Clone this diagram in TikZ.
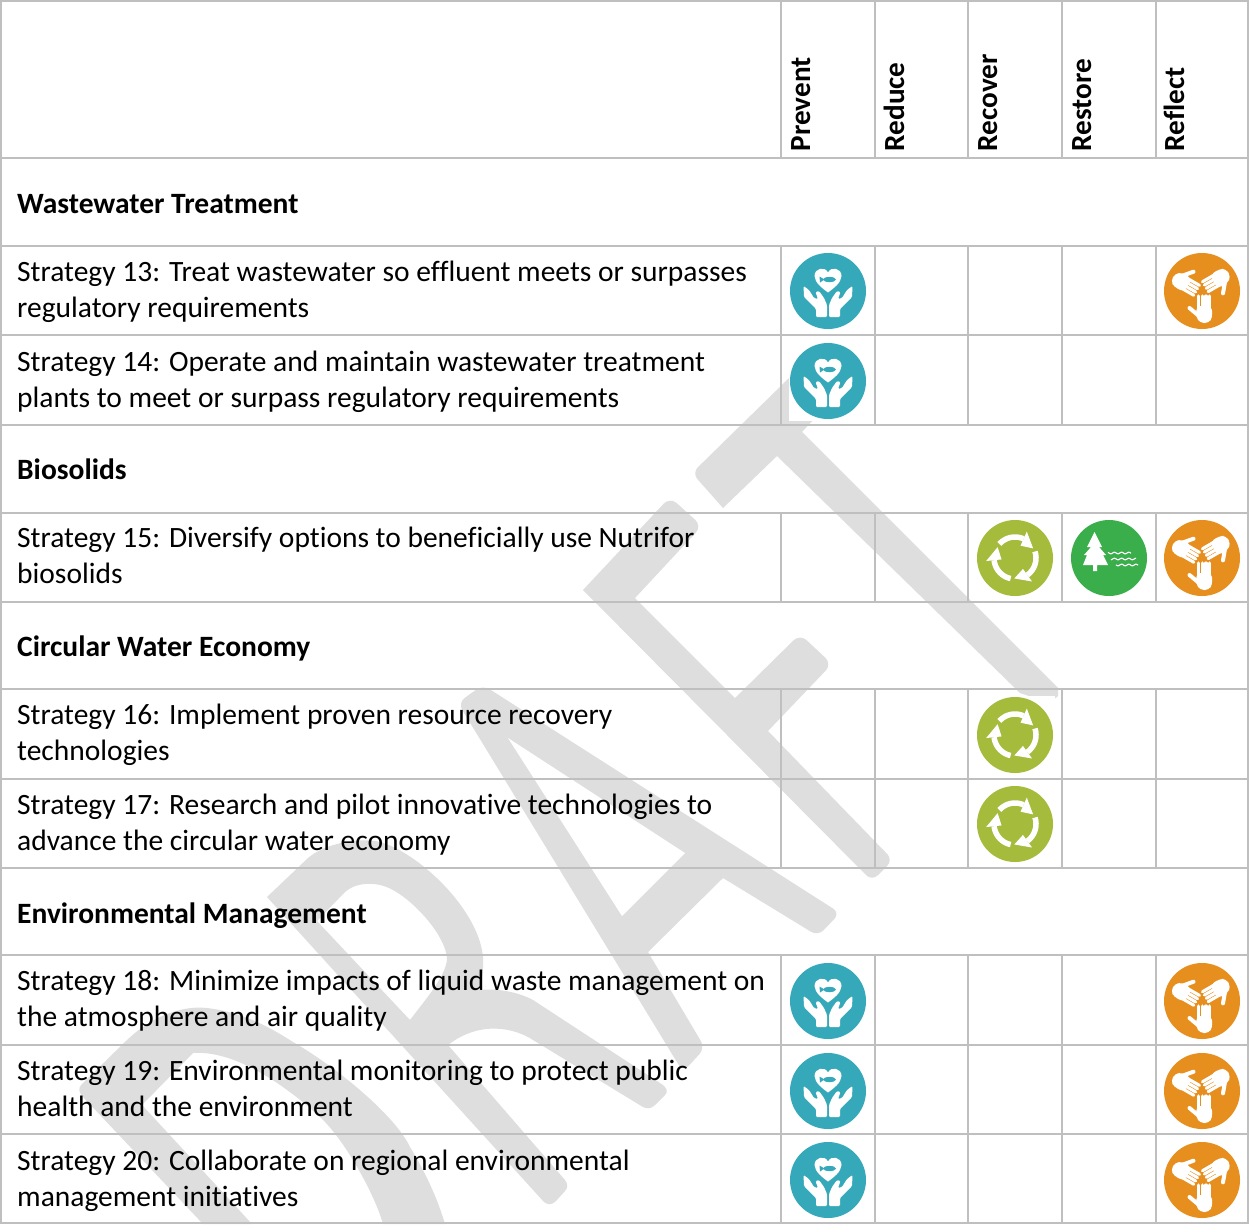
\documentclass[tikz,border=0pt]{standalone}
\usepackage{fontspec}
\setmainfont{Carlito}[Ligatures=NoCommon]
\definecolor{gridc}{HTML}{BFBFBF}
\definecolor{wmark}{HTML}{DEDEDE}
\definecolor{teal}{HTML}{35A9B9}
\definecolor{orng}{HTML}{E68F1F}
\definecolor{lime}{HTML}{A4BB3C}
\definecolor{grn}{HTML}{3BAE4C}
\newcommand\recyclearc[2]{%
  \draw[white,line width=5.5pt] plot[domain=#1:#2,samples=14,smooth] ({21*cos(\x)},{21*sin(\x)});
  \fill[white] ({#2}:29) -- ({#2}:13.5) -- ({#2+38}:20.5) -- cycle;}
\newcommand\onehand{%
  \foreach \fx in {-3.6,0.2,4,7.8}{\draw[white,line width=3.1pt,line cap=round] (\fx,5) -- (\fx,20);}
  \fill[white,rounded corners=4pt] (-5.4,15) -- (9.6,15) -- (10.5,26) -- (7,32) -- (-2,32) -- (-6,26) -- cycle;
  \draw[white,line width=4pt,line cap=round] (-3,25) -- (-12.5,17);}
\tikzset{
  x=1pt,y=-1pt,
  gridline/.style={gridc,line width=2.2pt},
  rowtext/.style={anchor=north west,inner sep=0pt,align=left,font=\fontsize{29.5}{36}\selectfont},
  section/.style={anchor=base west,inner sep=0pt,font=\fontsize{29.5}{35}\selectfont\bfseries},
  colhead/.style={anchor=base west,inner sep=0pt,rotate=90,font=\fontsize{29.2}{35}\selectfont\bfseries},
  markfill/.style={fill=wmark,even odd rule},
  preventicon/.pic={
    \fill[white] (-39.5,-39.5) rectangle (39.5,39.5);
    \fill[teal] (0,0) circle[radius=38];
    \fill[white] (0,1.5) .. controls (-6,-3) and (-13,-8) .. (-13.5,-15) .. controls (-13.5,-23) and (-3,-25) .. (0,-18.5) .. controls (3,-25) and (13.5,-23) .. (13.5,-15) .. controls (13,-8) and (6,-3) .. cycle;
    \fill[teal] (1.5,-11.5) ellipse[x radius=6.5,y radius=2.6];
    \fill[teal] (-8.5,-14.5) -- (-8,-8.5) -- (-3.5,-11.5) -- cycle;
    \foreach \sgn in {1,-1}{
      \begin{scope}[xscale=\sgn]
        \fill[white,rounded corners=1.2pt] (-24.5,-5) -- (-24,6) -- (-12,18) -- (-12,26) -- (-1,26) -- (-1,14) -- (-4,7) -- (-9,0) -- (-12.5,1) -- (-10,8) -- (-14,7) -- (-19,-1) -- cycle;
      \end{scope}}
  },
  recovericon/.pic={
    \fill[white] (-39.5,-39.5) rectangle (39.5,39.5);
    \fill[lime] (0,0) circle[radius=38];
    \recyclearc{-138}{-66}
    \recyclearc{-18}{54}
    \recyclearc{102}{174}
  },
  restoreicon/.pic={
    \fill[white] (-39.5,-39.5) rectangle (39.5,39.5);
    \fill[grn] (0,0) circle[radius=38];
    \fill[white] (-14.5,-26) -- (-7,-11) -- (-10,-11) -- (-3,-3) -- (-6,-3) -- (-1,7) -- (-12,7) -- (-12,13) -- (-16,13) -- (-16,7) -- (-26,7) -- (-22,-3) -- (-25,-3) -- (-18,-11) -- (-22,-11) -- cycle;
    \draw[white,line width=1.1pt] plot[domain=-1:22,samples=30,smooth] (\x,{-5+0.8*sin(\x*50)});
    \draw[white,line width=1.1pt] plot[domain=2:27,samples=30,smooth] (\x,{1+0.8*sin(\x*50)});
    \draw[white,line width=1.1pt] plot[domain=7:29,samples=30,smooth] (\x,{7+0.8*sin(\x*50)});
  },
  reflecticon/.pic={
    \fill[white] (-39.5,-39.5) rectangle (39.5,39.5);
    \fill[orng] (0,0) circle[radius=38];
    \onehand
    \begin{scope}[rotate=120]\onehand\end{scope}
    \begin{scope}[rotate=-120]\onehand\end{scope}
  },
}
\begin{document}
\begin{tikzpicture}
\useasboundingbox (0,0) rectangle (1249,1224);
\clip (0,0) rectangle (1249,1224);
\fill[white] (0,0) rectangle (1249,1224);
% watermark: letter T
\path[markfill] [rounded corners=8pt] (723,508) -- (692,473) [sharp corners] -- (789,378) -- (815,378) -- (815,418) -- (802,432) -- (1058,688) -- (1058,696) -- (1050,703) -- (1020,693) -- (777,456) -- cycle;
% watermark: letter F
\path[markfill] [rounded corners=9pt] (583,590) -- (670,497) -- (702,526) [sharp corners] -- (635,598) -- (735,698) [rounded corners=9pt] -- (800,634) -- (832,664) [sharp corners] -- (768,731) [rounded corners=8pt] -- (893,860) -- (872,881) [sharp corners] -- cycle;
% watermark: letter A
\path[markfill] (470,694) [rounded corners=8pt] -- (483,685) -- (840,913) -- (818,936) [sharp corners] -- (723,878) -- (648,952) [rounded corners=8pt] -- (705,1048) -- (683,1072) -- (458,703) [sharp corners] -- cycle;
\path[fill=white] (508,738) -- (685,853) -- (622,916) -- cycle;
% watermark: letter R
\path[markfill] (267,897) -- (308,858) .. controls (322,846) and (350,838) .. (375,841) .. controls (410,846) and (478,905) .. (483,957) .. controls (484,970) and (481,982) .. (480,990) .. controls (500,988) and (520,993) .. (533,1000) -- (660,1083) .. controls (668,1088) and (668,1092) .. (665,1095) -- (655,1105) .. controls (651,1109) and (647,1109) .. (643,1107) -- (533,1040) .. controls (515,1028) and (480,1020) .. (448,1045) -- (565,1180) .. controls (568,1184) and (568,1188) .. (565,1191) -- (556,1201) .. controls (552,1205) and (548,1205) .. (544,1202) -- cycle
  (317,921) -- (345,892) .. controls (355,883) and (375,880) .. (393,890) .. controls (415,902) and (445,935) .. (447,958) .. controls (447,975) and (425,1000) .. (410,1020) -- cycle;
% watermark: letter D
\path[markfill] (84,1098) .. controls (78,1092) and (78,1088) .. (82,1084) -- (127,1040) .. controls (150,1018) and (180,1005) .. (207,1008) .. controls (240,1012) and (265,1024) .. (293,1042) .. controls (335,1066) and (395,1115) .. (410,1147) .. controls (425,1172) and (437,1197) .. (445,1224) -- (383,1224) .. controls (375,1195) and (345,1140) .. (320,1117) .. controls (285,1085) and (235,1050) .. (193,1053) -- (142,1105) -- (252,1224) -- (203,1224) -- cycle;
% grid
\foreach \yy in {1,158,246,335,425,513,602,689,779,868,955,1045,1134,1223}{\draw[gridline] (0,\yy) -- (1249,\yy);}
\foreach \xx in {1,1248}{\draw[gridline] (\xx,0) -- (\xx,1224);}
\foreach \xx in {781,875,968,1062,1156}{
  \draw[gridline] (\xx,1) -- (\xx,158);
  \draw[gridline] (\xx,246) -- (\xx,425);
  \draw[gridline] (\xx,513) -- (\xx,602);
  \draw[gridline] (\xx,689) -- (\xx,868);
  \draw[gridline] (\xx,955) -- (\xx,1223);
}
% headers
\node[colhead] (hprevent) at (810,151.5) {Prevent};
\node[colhead] (hreduce) at (904,151.5) {Reduce};
\node[colhead] (hrecover) at (997,151.5) {Recover};
\node[colhead] (hrestore) at (1091,151.5) {Restore};
\node[colhead] (hreflect) at (1184.5,151.5) {Reflect};
% sections
\node[section] (s1) at (17,213) {Wastewater Treatment};
\node[section] (s2) at (17,479) {Biosolids};
\node[section] (s3) at (17,656) {Circular Water Economy};
\node[section] (s4) at (17,923) {Environmental Management};
% rows
\node[rowtext] (r13) at (17,255.8) {\strut Strategy 13: Treat wastewater so effluent meets or surpasses\\\strut regulatory requirements};
\node[rowtext] (r14) at (17,345.6) {\strut Strategy 14: Operate and maintain wastewater treatment\\\strut plants to meet or surpass regulatory requirements};
\node[rowtext] (r15) at (17,521.8) {\strut Strategy 15: Diversify options to beneficially use Nutrifor\\\strut biosolids};
\node[rowtext] (r16) at (17,698.8) {\strut Strategy 16: Implement proven resource recovery\\\strut technologies};
\node[rowtext] (r17) at (17,788.8) {\strut Strategy 17: Research and pilot innovative technologies to\\\strut advance the circular water economy};
\node[rowtext] (r18) at (17,964.8) {\strut Strategy 18: Minimize impacts of liquid waste management on\\\strut the atmosphere and air quality};
\node[rowtext] (r19) at (17,1054.8) {\strut Strategy 19: Environmental monitoring to protect public\\\strut health and the environment};
\node[rowtext] (r20) at (17,1144.6) {\strut Strategy 20: Collaborate on regional environmental\\\strut management initiatives};
% icons
\pic at (828,291) {preventicon};
\pic at (1202,291) {reflecticon};
\pic at (828,381) {preventicon};
\pic at (1015,558) {recovericon};
\pic at (1109,558) {restoreicon};
\pic at (1202,558) {reflecticon};
\pic at (1015,735) {recovericon};
\pic at (1015,824) {recovericon};
\pic at (828,1001) {preventicon};
\pic at (1202,1001) {reflecticon};
\pic at (828,1091) {preventicon};
\pic at (1202,1091) {reflecticon};
\pic at (828,1180) {preventicon};
\pic at (1202,1180) {reflecticon};
\end{tikzpicture}
\end{document}
